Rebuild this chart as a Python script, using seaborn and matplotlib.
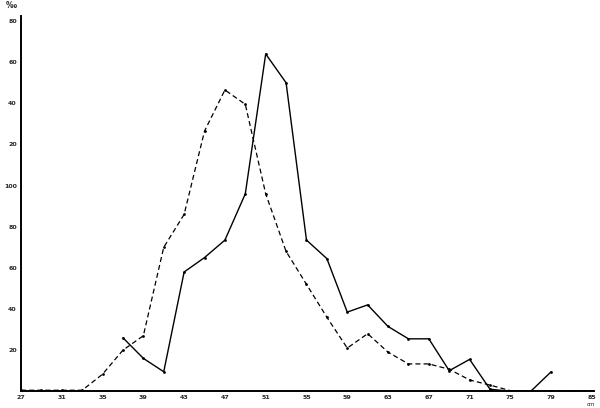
import numpy as np
import pandas as pd
import matplotlib
matplotlib.use('Agg')
import matplotlib.pyplot as plt
import seaborn as sns

# lengths (cm) and per-mille values
cm_solid = [37, 39, 41, 43, 45, 47, 49, 51, 53, 55, 57, 59, 61, 63, 65, 67, 69, 71, 73, 75, 77, 79]
val_solid = [26, 16, 9.5, 58, 65, 73.5, 96, 164, 150, 73.5, 64.5, 38.5, 42, 31.5, 25.5, 25.5, 10, 15.5, 1, 0, 0, 9.5]

cm_dashed = [27, 29, 31, 33, 35, 37, 39, 41, 43, 45, 47, 49, 51, 53, 55, 57, 59, 61, 63, 65, 67, 69, 71, 73, 75, 77, 79, 81, 83]
val_dashed = [0.5, 0.5, 0.5, 0.5, 8.3, 20, 27, 70, 86, 126.5, 146.5, 139.5, 96, 68, 52, 36, 21, 28, 19, 13.3, 13.3, 10.7, 5.5, 3, 0.3, 0.3, 0.3, 0.3, 0.3]

x_tick_pos = [27, 31, 35, 39, 43, 47, 51, 55, 59, 63, 67, 71, 75, 79, 83]
x_tick_labels = ['27', '31', '35', '39', '43', '47', '51', '55', '59', '63', '67', '71', '75', '79', '85']
y_tick_pos = [20, 40, 60, 80, 100, 120, 140, 160, 180]
y_tick_labels = ['20', '40', '60', '80', '100', '20', '40', '60', '80']

sns.set_style('white')
plt.rcParams['font.family'] = ['DejaVu Sans']

fig = plt.figure(figsize=(6, 4.08), dpi=100)
ax = fig.add_axes([0.035, 0.041, 0.955, 0.92])

solid = pd.DataFrame({'cm': cm_solid, 'val': val_solid})
dashed = pd.DataFrame({'cm': cm_dashed, 'val': val_dashed})

sns.lineplot(data=dashed, x='cm', y='val', ax=ax, color='black', lw=0.9,
             marker='o', markersize=2, markeredgewidth=0, dashes=False)
ax.lines[-1].set_dashes([4, 2.5])
sns.lineplot(data=solid, x='cm', y='val', ax=ax, color='black', lw=1.0,
             marker='o', markersize=2, markeredgewidth=0)

ax.set_xlim(27, 83.2)
ax.set_ylim(0, 182.5)
ax.set_xlabel('')
ax.set_ylabel('')

for s in ['top', 'right']:
    ax.spines[s].set_visible(False)
for s in ['left', 'bottom']:
    ax.spines[s].set_color('black')
    ax.spines[s].set_linewidth(1.4)

ax.set_xticks(x_tick_pos)
ax.set_xticklabels(x_tick_labels, fontsize=4.5, fontweight='bold')
ax.set_xticks(np.arange(29, 83, 4), minor=True)
ax.set_yticks(y_tick_pos)
ax.set_yticklabels(y_tick_labels, fontsize=4.5, fontweight='bold')
ax.set_yticks(np.arange(10, 180, 20), minor=True)
ax.tick_params(which='both', direction='inout', length=3, width=0.8, color='black', pad=1.5)

fig.text(11 / 600, 1 - 6 / 408, '‰', fontsize=5.5, fontweight='bold', ha='center', va='center')
fig.text(591 / 600, 1 - 404 / 408, 'cm', fontsize=4, ha='center', va='center')

fig.savefig('out.png', dpi=100, facecolor='white')
